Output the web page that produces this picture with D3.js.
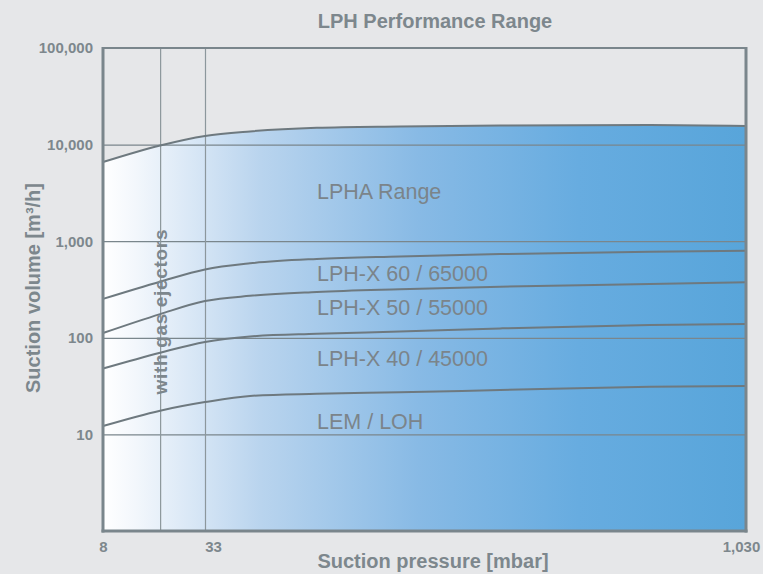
<!DOCTYPE html>
<html><head><meta charset="utf-8">
<script src="https://cdn.jsdelivr.net/npm/d3@7"></script>
<style>
html,body{margin:0;padding:0;background:#e6e7e9;}
svg{display:block;font-family:"Liberation Sans",Arial,sans-serif;}
</style></head>
<body><svg id="chart" width="763" height="574"></svg>
<script>
// ---- data ----
const pressure = [8, 22, 33, 116, 239, 392, 577, 853, 1030];
const lphaTop  = [6600, 9800, 12300, 13700, 14900, 15400, 15800, 16000, 15600];
const lphx60   = [253, 381, 510, 590, 655, 695, 736, 778, 797];
const lphx50   = [112, 176, 240, 272, 298, 318, 338, 360, 375];
const lphx40   = [48, 70, 90.5, 103, 110, 116, 125, 136, 139];
const lemLoh   = [12.2, 17.6, 21.6, 25, 26.3, 27.3, 28.8, 31.2, 31.7];
const seriesLabels = ["LPHA Range", "LPH-X 60 / 65000", "LPH-X 50 / 55000", "LPH-X 40 / 45000", "LEM / LOH"];
const labelValues  = [2735, 387, 172, 51, 11.4];
const yTicks = [10, 100, 1000, 10000, 100000];
const xTicks = [8, 33, 1030];
const xGrid = [22, 33];

// ---- layout ----
const svg = d3.select("#chart");
const L = 103, R = 746, T = 48, B = 531;
const x = d3.scaleLinear().domain([8, 33, 1030]).range([L, 205, R]);
const y = d3.scaleLog().domain([1, 100000]).range([B, T]);
const gridCol = "#7a868c", textCol = "#7d878d", lineCol = "#6e797f";

// gradient
const defs = svg.append("defs");
const grad = defs.append("linearGradient").attr("id", "g").attr("gradientUnits", "userSpaceOnUse")
  .attr("x1", L).attr("x2", R).attr("y1", 0).attr("y2", 0);
[[0, "#ffffff"], [0.05, "#f3f7fc"], [0.245, "#b9d4ee"], [0.49, "#88bae5"], [0.74, "#67ace0"], [1, "#58a5da"]]
  .forEach(([o, c]) => grad.append("stop").attr("offset", o).attr("stop-color", c));

const pts = v => pressure.map((p, i) => [p, v[i]]);
const curve = d3.curveMonotoneX;
const area = d3.area().x(d => x(d[0])).y0(B).y1(d => y(d[1])).curve(curve);
const line = d3.line().x(d => x(d[0])).y(d => y(d[1])).curve(curve);

svg.append("path").datum(pts(lphaTop)).attr("d", area).attr("fill", "url(#g)");

// gridlines
svg.append("g").attr("transform", `translate(${L},0)`)
  .call(d3.axisLeft(y).tickValues(yTicks.slice(0, 4)).tickSize(-(R - L)).tickFormat(""))
  .call(g => g.select(".domain").remove())
  .call(g => g.selectAll("line").attr("stroke", gridCol).attr("stroke-width", 1.2));
svg.append("g").attr("transform", `translate(0,${B})`)
  .call(d3.axisBottom(x).tickValues(xGrid).tickSize(-(B - T)).tickFormat(""))
  .call(g => g.select(".domain").remove())
  .call(g => g.selectAll("line").attr("stroke", "#8c979c").attr("stroke-width", 1.2));

// series lines
[lphaTop, lphx60, lphx50, lphx40, lemLoh].forEach(v => {
  svg.append("path").datum(pts(v)).attr("d", line).attr("fill", "none")
    .attr("stroke", lineCol).attr("stroke-width", 2);
});

// frame
svg.append("line").attr("x1", L).attr("x2", R).attr("y1", T).attr("y2", T).attr("stroke", gridCol).attr("stroke-width", 2);
svg.append("line").attr("x1", L).attr("x2", L).attr("y1", T - 1).attr("y2", B + 1.5).attr("stroke", gridCol).attr("stroke-width", 3);
svg.append("line").attr("x1", R).attr("x2", R).attr("y1", T - 1).attr("y2", B + 1.5).attr("stroke", gridCol).attr("stroke-width", 3);
svg.append("line").attr("x1", L - 1.5).attr("x2", R + 1.5).attr("y1", B).attr("y2", B).attr("stroke", gridCol).attr("stroke-width", 3);

// y axis labels
svg.append("g").attr("transform", `translate(${L},0)`)
  .call(d3.axisLeft(y).tickValues(yTicks).tickSize(0).tickPadding(10).tickFormat(d3.format(",")))
  .call(g => g.select(".domain").remove())
  .call(g => g.selectAll("text").attr("fill", textCol).attr("font-size", 15).attr("font-weight", "bold")
    .attr("font-family", "Liberation Sans, Arial, sans-serif"));

// x axis labels
const xOff = {8: 0, 33: 8, 1030: -5};
svg.append("g").attr("transform", `translate(0,${B})`)
  .call(d3.axisBottom(x).tickValues(xTicks).tickSize(0).tickPadding(10).tickFormat(d3.format(",")))
  .call(g => g.select(".domain").remove())
  .call(g => g.selectAll("text").attr("fill", textCol).attr("font-size", 15).attr("font-weight", "bold")
    .attr("font-family", "Liberation Sans, Arial, sans-serif").attr("dx", d => xOff[d]));

// series labels
seriesLabels.forEach((t, i) => {
  svg.append("text").attr("x", 317).attr("y", y(labelValues[i])).text(t)
    .attr("fill", "#7b848a").attr("font-size", 21.5);
});

// rotated text
svg.append("text").attr("transform", "translate(167,312) rotate(-90)").attr("text-anchor", "middle")
  .attr("fill", textCol).attr("font-weight", "bold").attr("font-size", 19)
  .attr("textLength", 165).attr("lengthAdjust", "spacing").text("with gas ejectors");

// titles
svg.append("text").attr("x", 435).attr("y", 28).attr("text-anchor", "middle").attr("fill", textCol)
  .attr("font-weight", "bold").attr("font-size", 20).text("LPH Performance Range");
svg.append("text").attr("x", 433).attr("y", 568).attr("text-anchor", "middle").attr("fill", textCol)
  .attr("font-weight", "bold").attr("font-size", 20).text("Suction pressure [mbar]");
svg.append("text").attr("transform", "translate(40,288) rotate(-90)").attr("text-anchor", "middle").attr("fill", textCol)
  .attr("font-weight", "bold").attr("font-size", 20).text("Suction volume [m³/h]");
</script></body></html>
